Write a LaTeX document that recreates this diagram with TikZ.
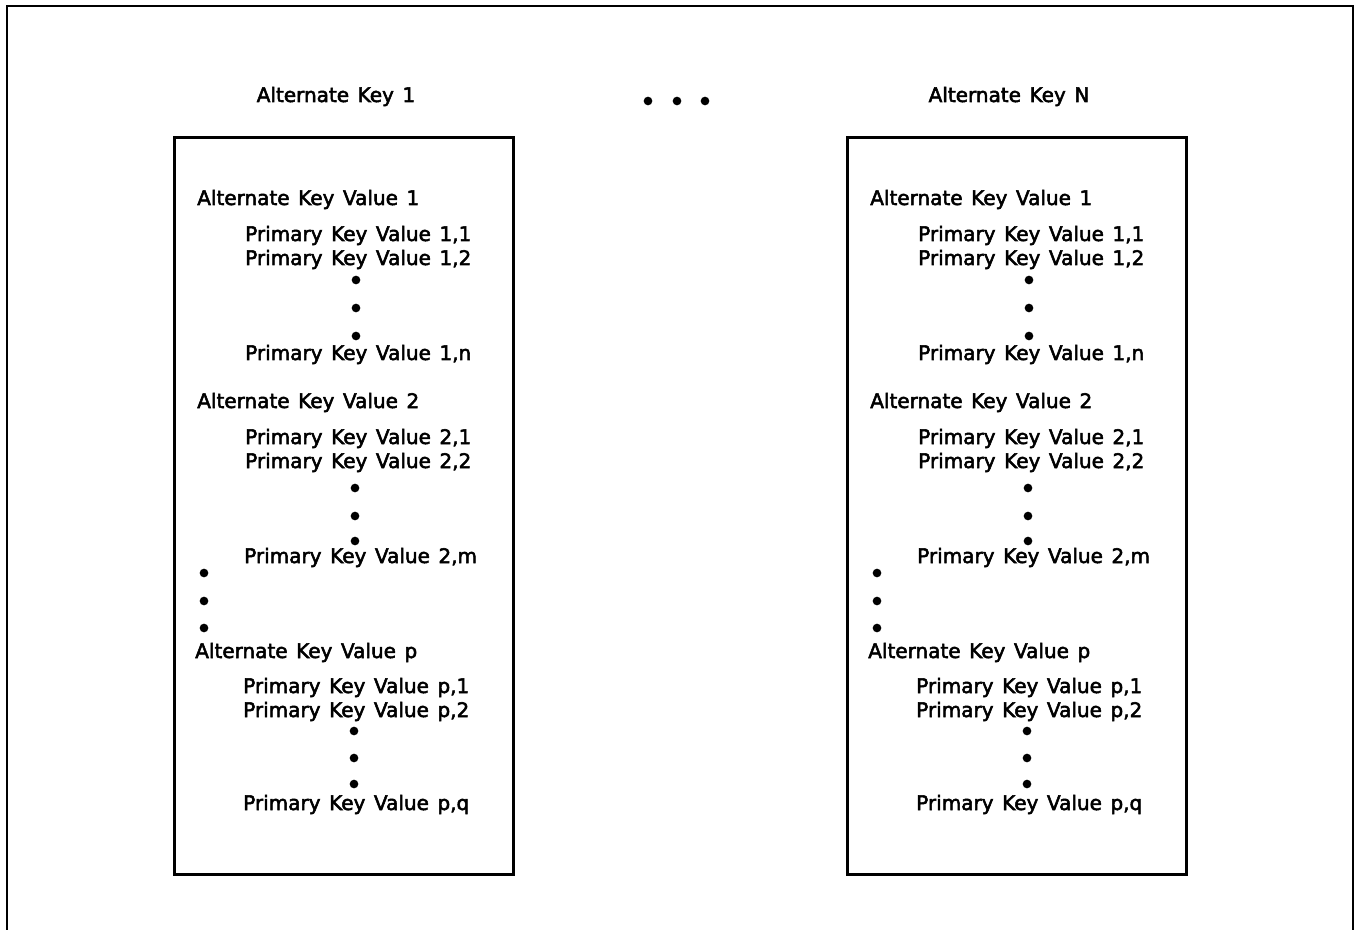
\documentclass[tikz,border=0pt]{standalone}
\usepackage{fontspec}
\setmainfont{DejaVu Sans}[BoldFont={DejaVu Sans}, BoldFeatures={FakeBold=2.6}, WordSpace=1.35]
\usetikzlibrary{positioning}

\begin{document}
\begin{tikzpicture}[
    x=0.75pt, y=-0.75pt,
    entry/.style={anchor=base west, inner sep=0pt, font=\fontsize{15}{18}\selectfont\bfseries},
    title/.style={anchor=base, inner sep=0pt, font=\fontsize{15}{18}\selectfont\bfseries},
    dot/.style={circle, fill=black, inner sep=0pt, minimum size=6.5pt},
    frame/.style={line width=2.2pt},
    keybox/.style={draw, line width=2.2pt, inner sep=0pt}
]
\useasboundingbox (0,0) rectangle (1356,930);

% outer frame (open at the bottom)
\draw[frame] (7,930) -- (7,6) -- (1353,6) -- (1353,930);

% dots between the two indexes
\node[dot] (gap1) at (648,101) {};
\node[dot] (gap2) at (677,101) {};
\node[dot] (gap3) at (705,101) {};

% one index per column
\foreach \col/\dx/\name in {L/0/Alternate Key 1, R/673/Alternate Key N} {
  \begin{scope}[xshift=\dx*0.75pt]
    % Title
    \node[title] (head\col) at (336,102) {\name};
    % Box
    \node[keybox, minimum width=339*0.75pt, minimum height=737*0.75pt, anchor=north west] (box\col) at (173,136) {};

    % Alternate Key Value 1
    \node[entry] (av1\col) at (197,205) {Alternate Key Value 1};
    \node[entry] (pa\col) at (245,241) {Primary Key Value 1,1};
    \node[entry] (pb\col) at (245,265) {Primary Key Value 1,2};
    \node[dot] at (356,280) {};
    \node[dot] at (356,308) {};
    \node[dot] at (356,336) {};
    \node[entry] (pn\col) at (245,360) {Primary Key Value 1,n};

    % Alternate Key Value 2
    \node[entry] (av2\col) at (197,408) {Alternate Key Value 2};
    \node[entry] (qa\col) at (245,444) {Primary Key Value 2,1};
    \node[entry] (qb\col) at (245,468) {Primary Key Value 2,2};
    \node[dot] at (355,488) {};
    \node[dot] at (355,516) {};
    \node[dot] at (355,541) {};
    \node[entry] (qm\col) at (244,563) {Primary Key Value 2,m};

    % more alternate key values
    \node[dot] at (204,573) {};
    \node[dot] at (204,601) {};
    \node[dot] at (204,628) {};

    % Alternate Key Value p
    \node[entry] (avp\col) at (195,658) {Alternate Key Value p};
    \node[entry] (ra\col) at (243,693) {Primary Key Value p,1};
    \node[entry] (rb\col) at (243,717) {Primary Key Value p,2};
    \node[dot] at (354,731) {};
    \node[dot] at (354,758) {};
    \node[dot] at (354,784) {};
    \node[entry] (rq\col) at (243,810) {Primary Key Value p,q};
  \end{scope}
}

\end{tikzpicture}
\end{document}
